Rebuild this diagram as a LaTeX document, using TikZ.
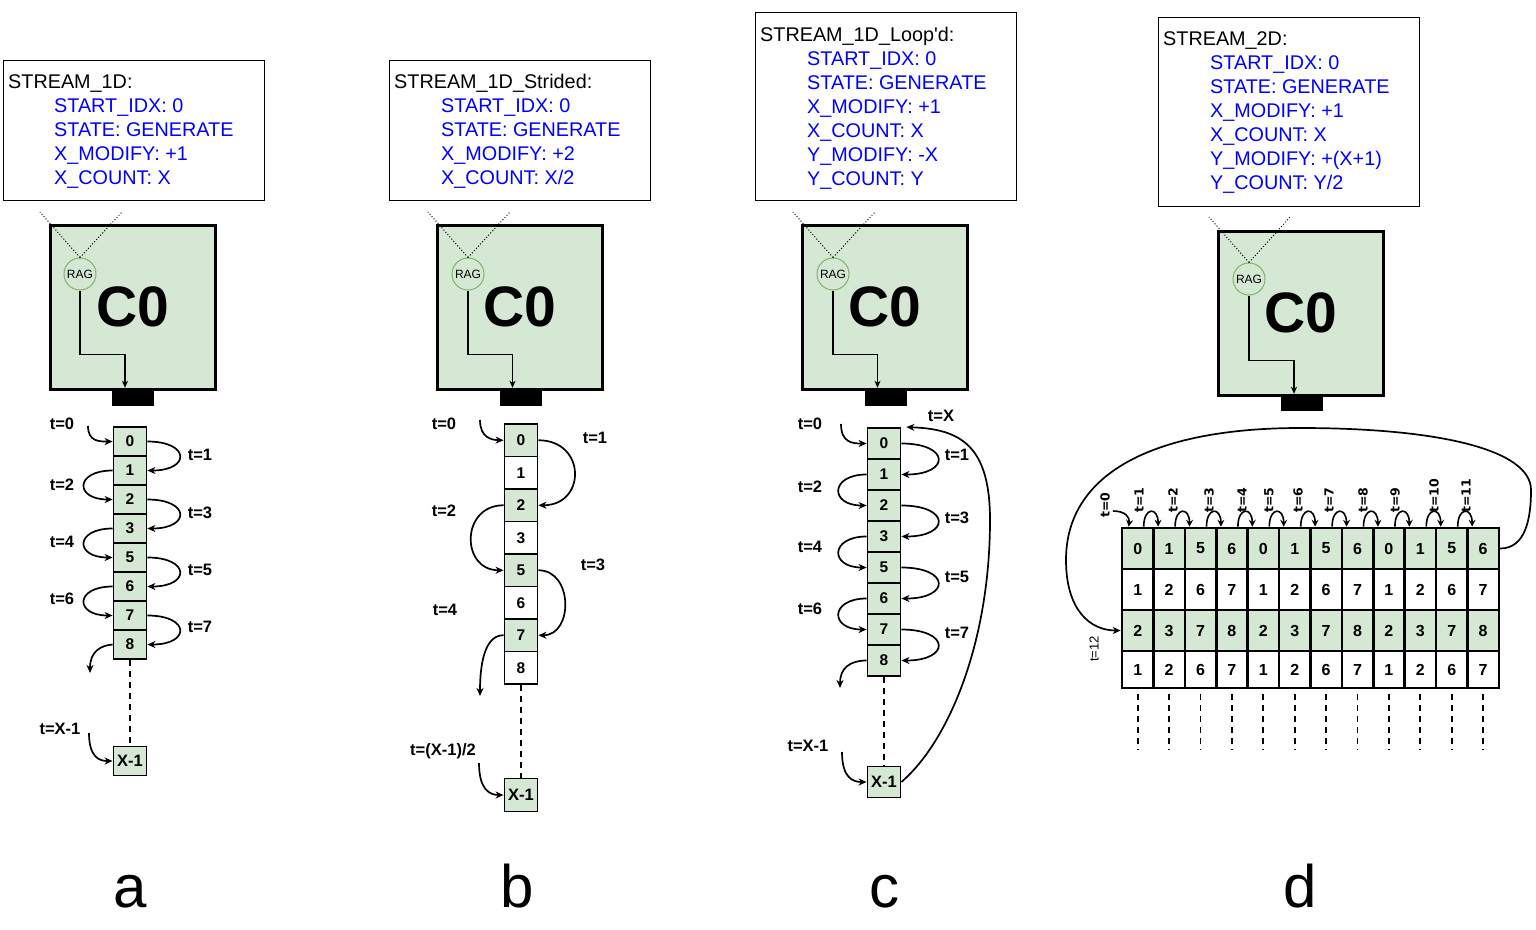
\documentclass[tikz,border=0pt]{standalone}
\usepackage{fontspec}
\setmainfont{Liberation Sans}
\newfontfamily\djfont{DejaVu Sans}
\usetikzlibrary{arrows.meta}
\definecolor{cgreen}{HTML}{D5E8D4}
\definecolor{rgreen}{HTML}{82B366}
\definecolor{tblue}{HTML}{0000FF}
\tikzset{
  infobox/.style={draw, line width=0.9pt, anchor=north west, inner sep=0pt},
  ttl/.style={anchor=base west, inner sep=0pt, font=\fontsize{19.8}{19.8}\selectfont},
  fld/.style={ttl, text=tblue},
  corebox/.style={draw, line width=3pt, fill=cgreen, minimum width=165pt, minimum height=164pt, inner sep=0pt, font=\bfseries\fontsize{57}{57}\selectfont},
  rag/.style={circle, draw=rgreen, line width=1pt, fill=cgreen, minimum size=32pt, inner sep=0pt, font=\fontsize{12}{12}\selectfont},
  port/.style={fill=black, minimum width=42pt, minimum height=18pt, inner sep=0pt},
  dots/.style={dotted, line width=1pt},
  arr/.style={line width=1.7pt, -{Stealth[length=8pt,width=7pt,inset=2.5pt]}},
  sarr/.style={line width=1.6pt, -{Stealth[length=7pt,width=7pt,inset=2.5pt]}},
  thinarr/.style={line width=1.2pt, -{Stealth[length=7pt,width=6pt,inset=2pt]}},
  cell/.style={draw, line width=1.8pt, inner sep=0pt, minimum width=33pt, font=\bfseries\fontsize{15.5}{15.5}\selectfont},
  gcell/.style={cell, fill=cgreen},
  wcell/.style={cell, fill=white},
  xcell/.style={gcell, font=\bfseries\fontsize{16.5}{16.5}\selectfont},
  gridc/.style={draw, line width=2.6pt, inner sep=0pt, minimum width=31.4pt, font=\bfseries\fontsize{16}{16}\selectfont},
  tlab/.style={inner sep=0pt, font=\bfseries\fontsize{16.5}{16.5}\selectfont},
  rlab/.style={inner sep=0pt, rotate=90, anchor=west, font=\djfont\bfseries\fontsize{12.5}{12.5}\selectfont},
  dline/.style={dash pattern=on 6pt off 5pt, line width=1.7pt},
  letter/.style={anchor=base, inner sep=0pt, font=\fontsize{60}{60}\selectfont},
}
\begin{document}
\begin{tikzpicture}[x=1pt,y=-1pt]
\useasboundingbox (0,0) rectangle (1536,929);

%================ Panel a
\node[infobox, minimum width=261pt, minimum height=140pt] (ia) at (3,60) {};
\node[ttl] (ia0) at (8,88) {STREAM\_1D:};
\node[fld] (ia1) at (54,112) {START\_IDX: 0};
\node[fld] (ia2) at (54,136) {STATE: GENERATE};
\node[fld] (ia3) at (54,160) {X\_MODIFY: +1};
\node[fld] (ia4) at (54,184) {X\_COUNT: X};
\node[corebox] (ca) at (132.5,307) {C0};
\node[rag] (ra) at (80,274) {RAG};
\coordinate (ra1) at (40,212); \coordinate (ra2) at (122,212);
\draw[dots] (ra.north) -- (ra1); \draw[dots] (ra.north) -- (ra2);
\node[port] (pa) at (133,397) {};
\draw[thinarr] (ra.south) -- ++(0,64) -| ([xshift=-8pt]pa.north);
\foreach \v [count=\i from 0] in {0,1,2,3,5,6,7,8}
  \node[gcell, minimum height=29pt] (a\i) at (130,{441.5+29*\i}) {\v};
\node[xcell, minimum height=29pt] (ax) at (130,761) {X-1};
\coordinate (a-in) at (88,426);
\draw[arr] (a-in) .. controls (88,442) and (100,441.5) .. (a0.west);
\foreach \i/\j in {0/1,2/3,4/5,6/7}
  \draw[arr] (a\i.east) .. controls +(43,0) and +(43,0) .. (a\j.east);
\foreach \i/\j in {1/2,3/4,5/6}
  \draw[arr] (a\i.west) .. controls +(-38,0) and +(-38,0) .. (a\j.west);
\coordinate (a-out) at (90,673);
\draw[arr] (a7.west) .. controls (100,645.5) and (90,652) .. (a-out);
\draw[dline] (a7.south) -- (ax.north);
\coordinate (ax-in) at (89,733);
\draw[arr] (ax-in) .. controls (89,758) and (100,761) .. (ax.west);
\node[tlab] at (62,424) {t=0};
\node[tlab] at (62,485) {t=2};
\node[tlab] at (62,542) {t=4};
\node[tlab] at (62,599) {t=6};
\node[tlab] at (200,455) {t=1};
\node[tlab] at (200,513) {t=3};
\node[tlab] at (200,570) {t=5};
\node[tlab] at (200,627) {t=7};
\node[tlab] at (60,729) {t=X-1};
\node[letter] (la) at (130,907) {a};

%================ Panel b
\node[infobox, minimum width=261pt, minimum height=140pt] (ib) at (389,60) {};
\node[ttl] (ib0) at (394,88) {STREAM\_1D\_Strided:};
\node[fld] (ib1) at (441,112) {START\_IDX: 0};
\node[fld] (ib2) at (441,136) {STATE: GENERATE};
\node[fld] (ib3) at (441,160) {X\_MODIFY: +2};
\node[fld] (ib4) at (441,184) {X\_COUNT: X/2};
\node[corebox] (cb) at (520,307) {C0};
\node[rag] (rb) at (468,274) {RAG};
\coordinate (rb1) at (428,212); \coordinate (rb2) at (510,212);
\draw[dots] (rb.north) -- (rb1); \draw[dots] (rb.north) -- (rb2);
\node[port] (pb) at (520.5,397) {};
\draw[thinarr] (rb.south) -- ++(0,64) -| ([xshift=-8pt]pb.north);
\foreach \v/\s [count=\i from 0] in {0/gcell,1/wcell,2/gcell,3/wcell,5/gcell,6/wcell,7/gcell,8/wcell}
  \node[\s, minimum height=32.5pt] (b\i) at (521,{440.25+32.5*\i}) {\v};
\node[xcell, minimum height=33pt] (bx) at (521,795) {X-1};
\coordinate (b-in) at (480,420);
\draw[arr] (b-in) .. controls (480,438) and (492,440) .. (b0.west);
\draw[arr] (b0.east) .. controls +(48,0) and +(48,0) .. (b2.east);
\draw[arr] (b2.west) .. controls +(-43,0) and +(-43,0) .. (b4.west);
\draw[arr] (b4.east) .. controls +(35,0) and +(35,0) .. (b6.east);
\coordinate (b-out) at (480,696);
\draw[arr] (b6.west) .. controls (488,635) and (480,655) .. (b-out);
\draw[dline] (b7.south) -- (bx.north);
\coordinate (bx-in) at (479,763);
\draw[arr] (bx-in) .. controls (479,790) and (490,795) .. (bx.west);
\node[tlab] at (444,424) {t=0};
\node[tlab] at (595,438) {t=1};
\node[tlab] at (444,511) {t=2};
\node[tlab] at (593,565) {t=3};
\node[tlab] at (445,610) {t=4};
\node[tlab] at (443,751) {t=(X-1)/2};
\node[letter] (lb) at (517,907) {b};

%================ Panel c
\node[infobox, minimum width=261pt, minimum height=188pt] (ic) at (755,12) {};
\node[ttl] (ic0) at (760,41) {STREAM\_1D\_Loop\textquotesingle d:};
\node[fld] (ic1) at (807,65) {START\_IDX: 0};
\node[fld] (ic2) at (807,89) {STATE: GENERATE};
\node[fld] (ic3) at (807,113) {X\_MODIFY: +1};
\node[fld] (ic4) at (807,137) {X\_COUNT: X};
\node[fld] (ic5) at (807,161) {Y\_MODIFY: -X};
\node[fld] (ic6) at (807,185) {Y\_COUNT: Y};
\node[corebox] (cc) at (885,307) {C0};
\node[rag] (rc) at (833,274) {RAG};
\coordinate (rc1) at (793,212); \coordinate (rc2) at (875,212);
\draw[dots] (rc.north) -- (rc1); \draw[dots] (rc.north) -- (rc2);
\node[port] (pc) at (885.5,397) {};
\draw[thinarr] (rc.south) -- ++(0,64) -| ([xshift=-8pt]pc.north);
\foreach \v [count=\i from 0] in {0,1,2,3,5,6,7,8}
  \node[gcell, minimum height=31pt] (c\i) at (884,{443.5+31*\i}) {\v};
\node[xcell, minimum height=31pt] (cx) at (884,782) {X-1};
\coordinate (c-in) at (841,424);
\draw[arr] (c-in) .. controls (841,443) and (853,443.5) .. (c0.west);
\foreach \i/\j in {0/1,2/3,4/5,6/7}
  \draw[arr] (c\i.east) .. controls +(49,0) and +(49,0) .. (c\j.east);
\foreach \i/\j in {1/2,3/4,5/6}
  \draw[arr] (c\i.west) .. controls +(-37,0) and +(-37,0) .. (c\j.west);
\coordinate (c-out) at (840,688);
\draw[arr] (c7.west) .. controls (850,660.5) and (840,668) .. (c-out);
\draw[dline] (c7.south) -- (cx.north);
\coordinate (cx-in) at (842,752);
\draw[arr] (cx-in) .. controls (842,778) and (853,782) .. (cx.west);
\draw[arr] (cx.east) .. controls (950,740) and (990,640) .. (990,520)
  .. controls (990,445) and (960,429) .. ([xshift=5pt]c0.north east);
\node[tlab] at (810,424) {t=0};
\node[tlab] at (810,487) {t=2};
\node[tlab] at (810,547) {t=4};
\node[tlab] at (810,609) {t=6};
\node[tlab] at (957,455) {t=1};
\node[tlab] at (957,518) {t=3};
\node[tlab] at (957,577) {t=5};
\node[tlab] at (957,633) {t=7};
\node[tlab] at (941,416) {t=X};
\node[tlab] at (808,746) {t=X-1};
\node[letter] (lc) at (884,907) {c};

%================ Panel d
\node[infobox, minimum width=261pt, minimum height=189pt] (id) at (1158,17) {};
\node[ttl] (id0) at (1163,45) {STREAM\_2D:};
\node[fld] (id1) at (1210,69) {START\_IDX: 0};
\node[fld] (id2) at (1210,93) {STATE: GENERATE};
\node[fld] (id3) at (1210,117) {X\_MODIFY: +1};
\node[fld] (id4) at (1210,141) {X\_COUNT: X};
\node[fld] (id5) at (1210,165) {Y\_MODIFY: +(X+1)};
\node[fld] (id6) at (1210,189) {Y\_COUNT: Y/2};
\node[corebox] (cd) at (1301,313) {C0};
\node[rag] (rd) at (1249,279) {RAG};
\coordinate (rd1) at (1209,217); \coordinate (rd2) at (1290,217);
\draw[dots] (rd.north) -- (rd1); \draw[dots] (rd.north) -- (rd2);
\node[port, minimum height=17pt] (pd) at (1301.5,402.5) {};
\draw[thinarr] (rd.south) -- ++(0,65) -| ([xshift=-7.5pt]pd.north);
\foreach \v [count=\j from 0] in {0,1,5,6,0,1,5,6,0,1,5,6}
  \node[gridc, fill=cgreen, minimum height=41pt] (d0-\j) at ({1137.7+31.4*\j},548.5) {\v};
\foreach \v [count=\j from 0] in {1,2,6,7,1,2,6,7,1,2,6,7}
  \node[gridc, fill=white, minimum height=41pt] (d1-\j) at ({1137.7+31.4*\j},589.5) {\v};
\foreach \v [count=\j from 0] in {2,3,7,8,2,3,7,8,2,3,7,8}
  \node[gridc, fill=cgreen, minimum height=41pt] (d2-\j) at ({1137.7+31.4*\j},630.5) {\v};
\foreach \v [count=\j from 0] in {1,2,6,7,1,2,6,7,1,2,6,7}
  \node[gridc, fill=white, minimum height=37pt] (d3-\j) at ({1137.7+31.4*\j},669.5) {\v};
\foreach \j [evaluate=\j as \k using int(\j+1)] in {0,...,10}
  \draw[sarr] ([xshift=-11pt]d0-\j.north east) .. controls +(0,-20) and +(0,-20) .. ([xshift=6pt]d0-\k.north west);
\coordinate (d-in) at (1113,511);
\draw[sarr] (d-in) .. controls (1125,511) and (1130,517) .. ([xshift=8pt]d0-0.north west);
\node[rlab] at (1105,518) {t=0};
\foreach \t/\x in {1/1139,2/1173,3/1209,4/1242,5/1269,6/1298,7/1329,8/1363,9/1395,10/1434,11/1466}
  \node[rlab] at (\x,513) {t=\t};
\draw[arr] (d0-11.east) .. controls (1525,548.5) and (1531,520) .. (1531,490)
  .. controls (1531,450) and (1440,428) .. (1300,428)
  .. controls (1160,428) and (1066,470) .. (1066,560)
  .. controls (1066,610) and (1090,630.5) .. (d2-0.west);
\node[inner sep=0pt, rotate=90, font=\fontsize{13}{13}\selectfont] at (1094,649) {t=12};
\foreach \j in {0,...,11}
  \draw[dline] ([yshift=-5pt]d3-\j.south) -- ++(0,56);
\node[letter] (ld) at (1300,907) {d};
\end{tikzpicture}
\end{document}
